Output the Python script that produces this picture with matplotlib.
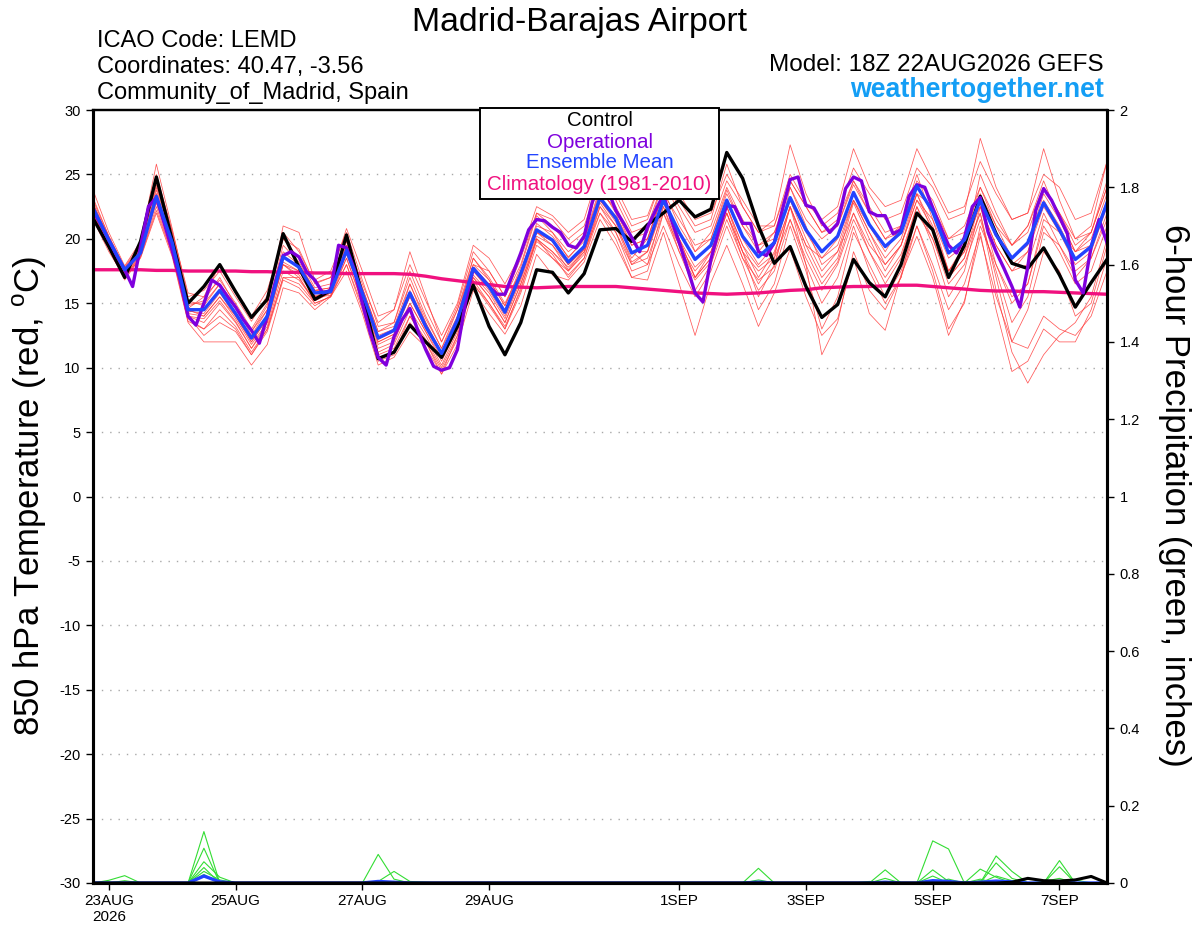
import numpy as np
import matplotlib
matplotlib.use("Agg")
import matplotlib.pyplot as plt
from matplotlib.patches import Rectangle

plt.rcParams['font.family'] = ['Liberation Sans', 'DejaVu Sans']

# ---------------- data ----------------
step_hours = 6            # ensemble output interval (hours after 22AUG 18Z)
op_step_hours = 3         # operational output interval
n_steps = 65

tick_hours = [6, 54, 102, 150, 222, 270, 318, 366]
tick_labels = ['23AUG\n2026', '25AUG', '27AUG', '29AUG', '1SEP', '3SEP', '5SEP', '7SEP']
temp_ticks = [-30, -25, -20, -15, -10, -5, 0, 5, 10, 15, 20, 25, 30]
precip_ticks = [0, 0.2, 0.4, 0.6, 0.8, 1.0, 1.2, 1.4, 1.6, 1.8, 2.0]
precip_ticklabels = ['0', '0.2', '0.4', '0.6', '0.8', '1', '1.2', '1.4', '1.6', '1.8', '2']

control = [21.6, 19.4, 17.0, 19.8, 24.8, 19.9, 15.0, 16.3, 18.0, 15.9,
           13.9, 15.3, 20.4, 17.8, 15.3, 16.0, 20.3, 15.6, 10.7, 11.2,
           13.3, 12.0, 10.8, 13.2, 16.4, 13.2, 11.0, 13.5, 17.6, 17.4,
           15.8, 17.3, 20.7, 20.8, 19.8, 21.1, 22.0, 23.0, 21.7, 22.3,
           26.7, 24.7, 21.0, 18.1, 19.4, 16.3, 13.9, 14.9, 18.4, 16.6,
           15.5, 18.0, 22.0, 20.7, 17.0, 19.5, 23.3, 20.4, 18.1, 17.7,
           19.3, 17.2, 14.7, 16.6, 18.4]

ens_mean = [22.4, 19.9, 17.6, 18.9, 23.3, 19.7, 14.5, 14.5, 16.0, 14.2,
            12.3, 14.0, 18.6, 17.8, 15.8, 15.9, 19.1, 15.8, 12.3, 12.9,
            15.8, 13.2, 11.1, 13.7, 17.7, 16.3, 14.3, 17.3, 20.7, 19.9,
            18.2, 19.4, 23.2, 21.6, 18.9, 19.5, 23.0, 20.5, 18.4, 19.5,
            23.0, 20.2, 18.6, 19.7, 23.2, 20.7, 19.0, 20.2, 23.6, 21.1,
            19.4, 20.5, 24.1, 22.1, 18.9, 19.9, 23.0, 20.3, 18.5, 19.7,
            22.8, 20.7, 18.4, 19.4, 22.8]

operational = [22.2, 21.1, 19.9, 18.7, 17.6, 16.3, 19.4, 22.5, 23.2, 21.2,
               19.1, 16.8, 14.0, 13.3, 15.0, 16.8, 16.4, 15.5, 14.7, 13.7,
               12.9, 11.9, 14.0, 16.6, 18.7, 19.0, 18.6, 17.4, 16.8, 15.8,
               16.0, 19.5, 19.3, 17.6, 15.0, 12.7, 10.8, 10.2, 12.4, 13.7,
               14.6, 12.9, 11.4, 10.1, 9.8, 10.0, 11.4, 15.0, 17.7, 17.0,
               16.3, 15.7, 15.7, 17.3, 18.9, 20.7, 21.5, 21.4, 20.9, 20.5,
               19.5, 19.3, 20.2, 22.8, 24.5, 23.8, 22.2, 21.2, 20.1, 19.0,
               20.9, 22.2, 23.4, 21.5, 19.7, 17.8, 15.8, 15.1, 18.4, 20.7,
               22.6, 22.5, 21.2, 21.2, 19.0, 18.7, 19.7, 22.2, 24.6, 24.8,
               22.6, 22.4, 21.3, 20.5, 21.2, 23.9, 24.8, 24.5, 22.1, 21.8,
               21.8, 20.4, 20.7, 23.3, 24.2, 24.0, 22.4, 20.9, 19.5, 18.9,
               20.1, 22.5, 23.2, 20.5, 19.0, 17.7, 16.3, 14.7, 17.8, 22.2,
               23.9, 23.0, 21.7, 20.4, 16.8, 15.8, 19.4, 21.5, 19.7]

climatology = [17.6, 17.6, 17.6, 17.6, 17.55, 17.55, 17.5, 17.5, 17.5, 17.5,
               17.45, 17.45, 17.4, 17.4, 17.35, 17.35, 17.3, 17.3, 17.3, 17.3,
               17.25, 17.1, 16.9, 16.75, 16.6, 16.45, 16.3, 16.25, 16.2, 16.25,
               16.3, 16.3, 16.3, 16.3, 16.2, 16.1, 16.0, 15.9, 15.8, 15.75,
               15.7, 15.75, 15.8, 15.9, 16.0, 16.05, 16.2, 16.25, 16.3, 16.3,
               16.35, 16.4, 16.4, 16.3, 16.2, 16.1, 16.0, 15.95, 15.95, 15.9,
               15.9, 15.85, 15.8, 15.75, 15.7]

m01 = [23.8, 20.5, 17.9, 19.8, 25.8, 20.8, 15.5, 16.0, 17.5, 15.5,
       13.6, 15.6, 20.5, 19.0, 16.6, 17.0, 20.8, 17.5, 14.0, 14.5,
       18.0, 15.2, 12.5, 15.0, 19.5, 18.5, 16.5, 18.8, 22.5, 21.8,
       20.5, 21.5, 25.5, 24.0, 21.5, 21.8, 25.0, 23.0, 21.0, 21.5,
       25.8, 22.5, 20.5, 21.5, 27.3, 23.5, 21.0, 22.0, 25.5, 23.5,
       21.5, 22.0, 25.5, 24.0, 21.5, 22.0, 27.8, 24.0, 21.5, 22.0,
       27.0, 23.0, 20.0, 21.0, 26.0]
m02 = [21.5, 19.0, 17.0, 18.5, 22.0, 18.6, 13.5, 12.0, 12.0, 12.0,
       10.2, 11.8, 16.2, 15.8, 14.5, 15.5, 17.5, 14.2, 10.2, 10.8,
       12.8, 11.6, 9.5, 11.8, 16.0, 14.2, 12.6, 14.8, 18.8, 17.2,
       16.8, 18.2, 21.5, 19.5, 17.0, 16.8, 20.5, 16.5, 12.5, 16.6,
       19.5, 16.5, 13.2, 15.8, 19.2, 15.5, 12.5, 13.8, 18.5, 14.2,
       12.9, 17.2, 20.2, 17.0, 12.5, 15.2, 20.2, 15.5, 12.0, 14.5,
       19.0, 17.5, 14.0, 15.0, 19.5]
m03 = [22.8, 20.0, 17.5, 19.2, 24.5, 20.0, 14.8, 15.2, 17.0, 14.8,
       12.5, 14.5, 19.5, 18.2, 16.0, 16.2, 19.8, 16.0, 12.0, 12.6,
       16.5, 13.5, 11.0, 14.0, 18.5, 16.8, 14.8, 17.8, 21.8, 20.5,
       18.5, 20.0, 24.0, 22.0, 19.0, 19.0, 23.5, 20.0, 17.0, 18.5,
       22.0, 19.0, 17.5, 18.5, 24.0, 21.0, 18.0, 19.0, 23.0, 21.0,
       19.0, 21.0, 25.0, 21.5, 17.5, 19.0, 25.0, 22.0, 19.5, 21.0,
       24.5, 21.5, 19.0, 20.5, 24.0]
m04 = [22.0, 19.5, 17.2, 18.8, 23.0, 19.2, 14.0, 13.5, 15.0, 13.5,
       11.5, 13.2, 17.5, 16.8, 15.2, 15.8, 18.5, 15.0, 11.2, 11.8,
       14.5, 12.5, 10.2, 12.8, 17.0, 15.5, 13.5, 16.5, 20.0, 19.0,
       17.8, 19.0, 22.5, 21.0, 18.5, 20.0, 23.5, 21.5, 19.5, 20.0,
       23.5, 21.0, 19.5, 20.5, 23.0, 20.0, 17.5, 19.0, 22.0, 19.5,
       18.0, 19.5, 23.5, 22.5, 20.0, 20.5, 22.5, 18.0, 15.0, 16.5,
       21.5, 20.5, 19.0, 19.5, 22.5]
m05 = [23.2, 20.2, 17.7, 19.5, 24.8, 20.5, 15.2, 14.8, 16.5, 14.6,
       12.8, 14.8, 21.0, 20.5, 16.8, 17.5, 20.5, 16.8, 13.2, 13.5,
       17.5, 14.5, 12.0, 14.8, 19.0, 17.5, 15.5, 18.5, 22.0, 21.0,
       19.5, 20.5, 24.5, 23.0, 20.5, 21.0, 24.5, 22.0, 19.0, 20.5,
       24.0, 21.5, 19.5, 20.0, 24.5, 22.5, 20.5, 21.5, 24.5, 22.0,
       20.0, 20.5, 23.5, 20.5, 17.5, 19.5, 23.5, 21.0, 19.5, 21.0,
       24.0, 22.0, 19.5, 20.5, 24.5]
m06 = [21.8, 19.2, 16.8, 18.6, 22.5, 18.8, 13.8, 13.0, 14.0, 13.0,
       11.0, 12.8, 16.8, 16.2, 14.8, 15.6, 18.0, 14.8, 10.8, 11.2,
       13.5, 12.0, 9.8, 12.2, 16.5, 14.8, 13.0, 15.8, 19.5, 18.5,
       17.5, 19.0, 22.0, 20.5, 18.0, 18.5, 22.0, 19.5, 17.5, 19.0,
       22.0, 19.0, 16.5, 18.5, 21.5, 18.5, 16.0, 18.0, 21.5, 19.0,
       16.5, 18.5, 22.5, 20.0, 16.5, 18.0, 21.5, 17.5, 13.5, 15.5,
       20.5, 19.5, 17.5, 18.5, 21.5]
m07 = [22.5, 20.0, 17.4, 19.0, 23.5, 19.5, 14.2, 14.0, 15.5, 13.8,
       11.8, 13.5, 18.0, 17.2, 15.5, 15.6, 19.0, 15.5, 11.8, 12.4,
       15.0, 12.8, 10.8, 13.2, 17.2, 15.8, 13.8, 16.8, 20.2, 19.5,
       17.6, 19.2, 23.0, 21.5, 19.0, 18.0, 21.0, 18.0, 15.5, 17.5,
       21.0, 18.0, 14.5, 16.5, 21.0, 17.5, 13.0, 15.5, 20.5, 18.0,
       15.5, 17.5, 21.0, 18.0, 14.5, 16.5, 20.5, 14.5, 9.7, 10.5,
       13.0, 12.0, 12.0, 14.5, 18.5]
m08 = [22.2, 19.6, 17.3, 19.0, 23.2, 19.4, 14.4, 14.2, 15.8, 14.0,
       12.0, 13.8, 18.2, 17.5, 15.6, 15.8, 19.0, 15.6, 12.0, 12.6,
       15.5, 13.0, 11.0, 13.5, 17.5, 16.0, 14.0, 17.0, 20.5, 19.8,
       18.0, 19.2, 23.0, 21.3, 18.2, 19.0, 22.8, 20.0, 17.8, 19.0,
       22.5, 19.5, 17.8, 18.8, 22.5, 19.5, 17.0, 18.5, 22.8, 20.0,
       17.5, 19.5, 23.0, 20.8, 17.0, 18.5, 22.0, 16.0, 11.2, 8.8,
       11.0, 12.5, 13.5, 15.5, 20.0]
m09 = [22.6, 19.8, 17.6, 19.1, 24.0, 19.9, 14.6, 15.5, 18.0, 15.8,
       14.0, 16.0, 20.0, 18.5, 16.2, 16.5, 19.5, 16.2, 12.8, 13.5,
       17.0, 14.0, 11.5, 14.5, 18.5, 17.0, 15.0, 17.5, 21.0, 20.5,
       19.0, 20.0, 23.5, 22.5, 20.0, 20.5, 24.5, 22.5, 20.5, 21.0,
       24.5, 22.5, 20.5, 21.0, 25.0, 22.8, 21.5, 22.5, 27.0, 24.0,
       22.5, 23.0, 27.0, 24.5, 22.0, 22.5, 26.0, 23.5, 21.5, 22.0,
       25.0, 24.0, 21.5, 22.0, 26.0]
m10 = [22.0, 19.5, 17.0, 18.8, 22.8, 19.0, 14.0, 12.5, 13.5, 12.8,
       11.0, 13.0, 17.0, 16.5, 15.0, 15.5, 18.0, 14.5, 10.5, 11.0,
       14.0, 12.2, 10.0, 12.5, 16.8, 15.0, 13.2, 16.0, 20.0, 18.5,
       17.2, 18.5, 22.5, 20.5, 17.5, 18.0, 22.5, 19.0, 16.8, 18.2,
       22.0, 18.5, 16.8, 17.8, 22.5, 19.0, 16.5, 18.2, 22.0, 19.0,
       17.0, 18.8, 22.5, 19.5, 15.5, 17.5, 22.5, 19.5, 17.5, 18.0,
       22.0, 19.5, 17.0, 18.5, 22.0]
m11 = [23.0, 20.2, 17.8, 19.6, 25.0, 20.6, 15.8, 15.5, 16.8, 15.0,
       13.0, 15.0, 20.0, 19.2, 16.5, 17.0, 20.0, 16.5, 13.5, 14.5,
       19.0, 15.5, 12.0, 14.5, 18.0, 17.5, 15.5, 18.0, 22.0, 21.5,
       20.0, 21.0, 24.5, 23.5, 21.0, 21.5, 25.0, 23.5, 21.5, 22.0,
       25.0, 23.0, 21.0, 21.0, 24.5, 22.5, 20.5, 21.0, 24.5, 22.5,
       20.5, 21.0, 24.0, 22.0, 19.0, 20.0, 24.0, 21.0, 18.5, 19.5,
       23.5, 21.5, 19.0, 20.0, 23.5]
m12 = [21.8, 19.3, 17.1, 18.6, 22.2, 18.8, 13.6, 13.0, 14.5, 13.2,
       11.2, 13.0, 17.0, 17.0, 15.0, 15.5, 18.5, 15.2, 11.0, 11.5,
       14.0, 12.0, 9.5, 12.5, 16.5, 15.0, 13.0, 16.2, 19.8, 18.8,
       17.0, 18.5, 22.0, 20.0, 17.0, 17.5, 22.0, 19.0, 16.0, 18.0,
       21.5, 18.5, 16.0, 17.5, 21.5, 18.0, 15.0, 17.0, 21.0, 17.5,
       15.0, 17.0, 21.0, 17.5, 13.0, 15.0, 21.0, 18.0, 15.5, 16.5,
       21.0, 19.0, 16.5, 17.5, 21.0]
m13 = [22.3, 19.7, 17.5, 19.0, 23.8, 19.6, 14.5, 14.0, 15.5, 14.0,
       12.0, 13.8, 18.5, 18.0, 16.0, 16.0, 19.3, 16.0, 12.5, 13.0,
       16.0, 13.5, 11.2, 13.8, 17.8, 16.5, 14.5, 17.0, 20.5, 19.5,
       18.0, 19.2, 23.0, 21.8, 19.5, 20.0, 23.5, 20.0, 17.0, 19.0,
       22.5, 19.0, 15.5, 18.0, 22.5, 18.0, 11.0, 13.5, 19.0, 16.0,
       14.5, 17.0, 22.0, 20.0, 17.0, 18.5, 23.0, 20.5, 18.0, 19.0,
       23.0, 21.0, 18.5, 19.5, 23.0]
m14 = [22.7, 20.1, 17.7, 19.3, 24.2, 20.2, 15.0, 15.0, 16.5, 14.8,
       12.8, 14.5, 19.0, 18.0, 16.0, 16.2, 19.5, 16.2, 12.8, 13.2,
       16.5, 13.8, 11.5, 14.0, 18.0, 16.8, 14.8, 17.5, 21.2, 20.2,
       18.6, 19.8, 23.8, 22.2, 19.5, 20.0, 23.8, 21.0, 19.0, 20.0,
       23.8, 21.0, 19.0, 20.5, 24.0, 21.5, 20.0, 21.0, 24.2, 22.0,
       20.0, 21.0, 24.5, 23.0, 20.0, 21.0, 24.0, 21.5, 19.5, 20.5,
       24.0, 22.0, 20.0, 20.5, 24.0]
m15 = [22.4, 19.8, 17.6, 19.2, 23.5, 19.5, 14.0, 13.8, 15.2, 13.6,
       11.5, 13.5, 18.0, 17.0, 15.2, 15.8, 18.8, 15.5, 11.5, 12.0,
       15.0, 12.8, 10.5, 13.0, 17.0, 15.5, 13.5, 16.5, 20.0, 19.0,
       17.5, 18.8, 22.8, 21.0, 18.0, 19.0, 22.5, 19.5, 17.0, 18.5,
       22.5, 19.5, 17.0, 19.0, 22.5, 19.5, 18.5, 20.0, 23.0, 20.5,
       18.0, 19.5, 23.0, 21.5, 18.5, 19.5, 22.5, 19.5, 17.5, 19.0,
       22.5, 20.5, 18.0, 19.0, 22.5]
m16 = [22.1, 19.6, 17.4, 18.9, 23.0, 19.3, 14.3, 14.6, 16.0, 14.2,
       12.2, 14.0, 18.0, 17.5, 15.5, 16.0, 19.0, 15.6, 12.2, 12.8,
       15.5, 13.2, 11.0, 13.5, 17.5, 16.2, 14.2, 17.0, 20.5, 19.8,
       18.0, 19.5, 23.0, 21.5, 19.0, 19.5, 23.0, 20.5, 18.5, 19.5,
       23.0, 20.0, 18.0, 19.5, 23.0, 20.5, 18.5, 19.5, 23.0, 20.5,
       18.5, 20.0, 23.5, 21.0, 17.5, 19.0, 22.0, 17.0, 12.0, 11.5,
       14.0, 13.0, 12.5, 14.0, 17.5]
members = [m01, m02, m03, m04, m05, m06, m07, m08, m09, m10, m11, m12, m13, m14, m15, m16]

# 6-hour precipitation (inches), nonzero steps only {step index: value}
p01 = {6: 0.0, 7: 0.133, 8: 0.0, 52: 0.0, 53: 0.109, 54: 0.088, 55: 0.0, 56: 0.036, 57: 0.015, 58: 0.0, 60: 0.0, 61: 0.058, 62: 0.0}
p02 = {6: 0.0, 7: 0.090, 8: 0.0, 17: 0.0, 18: 0.074, 19: 0.010, 20: 0.0, 41: 0.0, 42: 0.038, 43: 0.0, 56: 0.0, 57: 0.070, 58: 0.030, 59: 0.0}
p03 = {1: 0.007, 2: 0.019, 3: 0.0, 7: 0.055, 8: 0.015, 9: 0.0, 49: 0.0, 50: 0.034, 51: 0.0, 53: 0.034, 54: 0.004, 57: 0.052, 58: 0.012, 61: 0.042, 62: 0.0}
p04 = {2: 0.006, 7: 0.040, 8: 0.0, 18: 0.004, 19: 0.030, 20: 0.004, 21: 0.002, 42: 0.008, 50: 0.012, 56: 0.010, 57: 0.0}
p05 = {7: 0.030, 8: 0.008, 54: 0.010, 55: 0.0, 56: 0.006, 60: 0.004, 61: 0.012}
p06 = {7: 0.022, 19: 0.004, 49: 0.004, 53: 0.018, 55: 0.004, 57: 0.018, 58: 0.006, 62: 0.008}
precip_members = [p01, p02, p03, p04, p05, p06]
precip_mean = {7: 0.018, 8: 0.003, 18: 0.004, 19: 0.002, 42: 0.002, 50: 0.002, 53: 0.006, 54: 0.004, 56: 0.002, 57: 0.005, 58: 0.003, 61: 0.004}
precip_control = {58: 0.002, 59: 0.012, 60: 0.006, 61: 0.005, 62: 0.008, 63: 0.017, 64: 0.0}

# ---------------- figure ----------------
W, H = 1200, 927
fig = plt.figure(figsize=(W / 100, H / 100), dpi=100)
L, R, T, B = 93, 1107, 110, 883
ax = fig.add_axes([L / W, 1 - B / H, (R - L) / W, (B - T) / H])
ax2 = ax.twinx()

hours = np.arange(n_steps) * step_hours
op_hours = np.arange(len(operational)) * op_step_hours


def full_series(d):
    arr = np.zeros(n_steps)
    for k, v in d.items():
        arr[k] = v
    return arr


# temperature members
for m in members:
    ax.plot(hours, m, color='#ff3b3b', lw=0.55, alpha=0.85, zorder=2)

ax.plot(hours, climatology, color='#f0117f', lw=2.4, zorder=4, solid_capstyle='butt')
ax.plot(hours, control, color='black', lw=2.4, zorder=5)
ax.plot(op_hours, operational, color='#7f00dd', lw=2.4, zorder=6)
ax.plot(hours, ens_mean, color='#2244ff', lw=2.4, zorder=7)

ax.set_xlim(0, (n_steps - 1) * step_hours)
ax.set_ylim(-30, 30)
ax.set_yticks(temp_ticks)
ax.set_yticklabels([str(t) for t in temp_ticks])
ax.set_xticks(tick_hours)
ax.set_xticklabels(tick_labels, linespacing=1.15)
for yv in temp_ticks[1:-1]:
    ax.axhline(yv, color='#a8a8a8', lw=1.0, ls=(0, (1, 5)), zorder=1)

# precipitation on right axis (drawn beneath the axis spines)
for p in precip_members:
    ax2.plot(hours, full_series(p), color='#33dd33', lw=0.8, zorder=1.5)
ax2.plot(hours, full_series(precip_control), color='black', lw=2.2, zorder=1.7)
ax2.plot(hours, full_series(precip_mean), color='#2244ff', lw=2.4, zorder=1.6)
ax2.set_ylim(0, 2)
ax2.set_yticks(precip_ticks)
ax2.set_yticklabels(precip_ticklabels)

for a in (ax, ax2):
    for s in a.spines.values():
        s.set_linewidth(2.2)
        s.set_zorder(3)
    a.spines['top'].set_linewidth(1.6)
ax.tick_params(axis='y', direction='out', length=5, width=1, labelsize=10.5, pad=4)
ax.tick_params(axis='x', direction='out', length=5, width=1, labelsize=11, pad=3)
ax2.tick_params(axis='y', direction='out', length=5, width=1, labelsize=10.5, pad=4)

fig.text(30 / W, 1 - 496 / H, '850 hPa Temperature (red, $^{\\mathregular{o}}$C)', fontsize=25,
         rotation=90, ha='center', va='center')
fig.text(1175 / W, 1 - 495 / H, '6-hour Precipitation (green, inches)', fontsize=25,
         rotation=270, ha='center', va='center')

# header
fig.text(580 / W, 1 - 31 / H, 'Madrid-Barajas Airport', fontsize=24.3, ha='center', va='baseline')
fig.text(97 / W, 1 - 47 / H, 'ICAO Code: LEMD', fontsize=17, ha='left', va='baseline')
fig.text(97 / W, 1 - 73 / H, 'Coordinates: 40.47, -3.56', fontsize=17, ha='left', va='baseline')
fig.text(97 / W, 1 - 99 / H, 'Community_of_Madrid, Spain', fontsize=17, ha='left', va='baseline')
fig.text(1104 / W, 1 - 71 / H, 'Model: 18Z 22AUG2026 GEFS', fontsize=17.5, ha='right', va='baseline')
fig.text(1104 / W, 1 - 97 / H, 'weathertogether.net', fontsize=19.3, fontweight='bold',
         color='#149ef5', ha='right', va='baseline')

# legend box
bx0, bx1, by0, by1 = 480, 719, 108, 199
fig.patches.append(Rectangle((bx0 / W, 1 - by1 / H), (bx1 - bx0) / W, (by1 - by0) / H,
                             transform=fig.transFigure, facecolor='white', edgecolor='black',
                             lw=1.4, zorder=20))
legend_items = [('Control', 'black', 121), ('Operational', '#7f00dd', 142),
                ('Ensemble Mean', '#2244ff', 163), ('Climatology (1981-2010)', '#f0117f', 185)]
for txt, col, yy in legend_items:
    fig.text((bx0 + bx1) / 2 / W, 1 - yy / H, txt, color=col, fontsize=14.8,
             ha='center', va='center', zorder=21)

fig.savefig('out.png', dpi=100)
